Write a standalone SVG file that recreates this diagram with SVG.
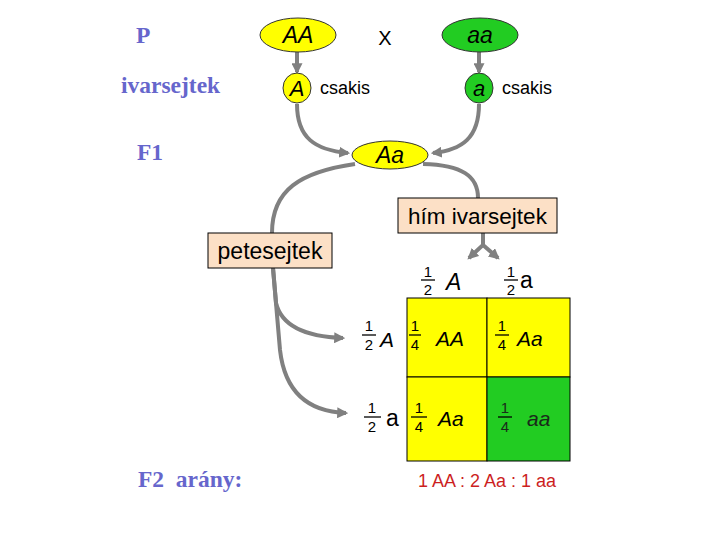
<svg xmlns="http://www.w3.org/2000/svg" width="720" height="540" viewBox="0 0 720 540">
<defs>
<marker id="ah" viewBox="0 0 10 10" refX="8" refY="5" markerWidth="11" markerHeight="11" markerUnits="userSpaceOnUse" orient="auto">
<path d="M0,0 L10,5 L0,10 z" fill="#808080"/>
</marker>
<style>
.lbl{font-family:"Liberation Serif",serif;font-weight:bold;font-size:23.5px;fill:#6666CC}
.sans{font-family:"Liberation Sans",Arial,sans-serif;fill:#000}
.it{font-style:italic}
.con{fill:none;stroke:#808080;stroke-width:4}
.yel{fill:#FFFF00;stroke:#333;stroke-width:1}
.grn{fill:#22CC22;stroke:#333;stroke-width:1}
.box{fill:#FCE0C6;stroke:#000;stroke-width:1}
.fr{font-size:15px;text-anchor:middle}
.frl{stroke:#000;stroke-width:1.3}
</style>
</defs>
<rect width="720" height="540" fill="#fff"/>

<g id="labels">
<text class="lbl" x="136" y="43">P</text>
<text class="lbl" x="121" y="93">ivarsejtek</text>
<text class="lbl" x="137" y="160">F1</text>
<text class="lbl" x="138" y="487" xml:space="preserve">F2  arány:</text>
<text class="sans" x="385" y="45" font-size="20" text-anchor="middle">X</text>
</g>

<g id="connectors">
<path class="con" d="M297,52 L297,72" marker-end="url(#ah)"/>
<path class="con" d="M479,52 L479,72" marker-end="url(#ah)"/>
<path class="con" d="M297,104 C297,138 315,150 348,153" marker-end="url(#ah)"/>
<path class="con" d="M479,104 C479,138 462,150 433,153" marker-end="url(#ah)"/>
<path class="con" d="M355,164 C300,172 272,190 272,233"/>
<path class="con" d="M423,164 C462,165 478,176 478,198"/>
<path class="con" d="M273,268 L276,303 Q284,336 343,338" marker-end="url(#ah)"/>
<path class="con" d="M273,268 L280,350 Q287,411 346,413" marker-end="url(#ah)"/>
<path class="con" d="M483,233 L483,245 L469,258" marker-end="url(#ah)"/>
<path class="con" d="M483,245 L498,258" marker-end="url(#ah)"/>
</g>

<g id="AA">
<ellipse class="yel" cx="298" cy="35" rx="38" ry="17"/>
<text class="sans it" x="298" y="43" font-size="23" text-anchor="middle">AA</text>
</g>
<g id="aa">
<ellipse class="grn" cx="480" cy="35" rx="38" ry="17"/>
<text class="sans it" x="480" y="43" font-size="23" text-anchor="middle">aa</text>
</g>
<g id="gameteA">
<ellipse class="yel" cx="297" cy="88" rx="14" ry="15"/>
<text class="sans it" x="297" y="96" font-size="22" text-anchor="middle">A</text>
<text class="sans" x="320" y="94" font-size="18">csakis</text>
</g>
<g id="gametea">
<ellipse class="grn" cx="479" cy="88" rx="14" ry="15"/>
<text class="sans it" x="479" y="96" font-size="22" text-anchor="middle">a</text>
<text class="sans" x="502" y="94" font-size="18">csakis</text>
</g>
<g id="Aa">
<ellipse class="yel" cx="390" cy="155" rx="38" ry="14"/>
<text class="sans it" x="390" y="163" font-size="23" text-anchor="middle">Aa</text>
</g>
<g id="him">
<rect class="box" x="398" y="198" width="159" height="35"/>
<text class="sans" x="477.5" y="224" font-size="22.5" text-anchor="middle">hím ivarsejtek</text>
</g>
<g id="pete">
<rect class="box" x="208" y="233" width="124" height="35"/>
<text class="sans" x="270" y="259" font-size="23" text-anchor="middle">petesejtek</text>
</g>

<g id="headers" class="sans">
<text class="sans fr" x="428" y="277">1</text>
<line class="frl" x1="421" y1="280" x2="435" y2="280"/>
<text class="sans fr" x="428" y="295">2</text>
<text class="sans it" x="446" y="290" font-size="23">A</text>
<text class="sans fr" x="511" y="277">1</text>
<line class="frl" x1="504" y1="280" x2="518" y2="280"/>
<text class="sans fr" x="511" y="295">2</text>
<text class="sans" x="520" y="288" font-size="23">a</text>
<text class="sans fr" x="369" y="331">1</text>
<line class="frl" x1="362" y1="335" x2="376" y2="335"/>
<text class="sans fr" x="369" y="350">2</text>
<text class="sans it" x="380" y="347" font-size="21">A</text>
<text class="sans fr" x="372" y="413">1</text>
<line class="frl" x1="364" y1="417" x2="381" y2="417"/>
<text class="sans fr" x="372" y="432">2</text>
<text class="sans" x="386" y="426" font-size="23">a</text>
</g>

<g id="grid">
<rect x="407" y="298" width="80" height="79" fill="#FFFF00" stroke="#000" stroke-width="1"/>
<rect x="487" y="298" width="83" height="79" fill="#FFFF00" stroke="#000" stroke-width="1"/>
<rect x="407" y="377" width="80" height="84" fill="#FFFF00" stroke="#000" stroke-width="1"/>
<rect x="487" y="377" width="83" height="84" fill="#22CC22" stroke="#000" stroke-width="1"/>
</g>
<g id="cellAA">
<text class="sans fr" x="415" y="331">1</text>
<line class="frl" x1="409" y1="335" x2="421" y2="335"/>
<text class="sans fr" x="415" y="350">4</text>
<text class="sans it" x="436" y="346" font-size="21">AA</text>
</g>
<g id="cellAa1">
<text class="sans fr" x="502" y="331">1</text>
<line class="frl" x1="495" y1="335" x2="509" y2="335"/>
<text class="sans fr" x="502" y="350">4</text>
<text class="sans it" x="517" y="346" font-size="21">Aa</text>
</g>
<g id="cellAa2">
<text class="sans fr" x="419" y="413">1</text>
<line class="frl" x1="411" y1="417" x2="427" y2="417"/>
<text class="sans fr" x="419" y="432">4</text>
<text class="sans it" x="438" y="426" font-size="21">Aa</text>
</g>
<g id="cellaa">
<text class="sans fr" x="505" y="413" style="fill:#1a2a1a">1</text>
<line class="frl" x1="498" y1="417" x2="512" y2="417"/>
<text class="sans fr" x="505" y="432" style="fill:#1a2a1a">4</text>
<text class="sans it" x="527" y="426" font-size="21" style="fill:#1a2a1a">aa</text>
</g>

<g id="ratio">
<text class="sans" x="487" y="487" font-size="18" text-anchor="middle" style="fill:#CC1F1F">1 AA : 2 Aa : 1 aa</text>
</g>
</svg>
